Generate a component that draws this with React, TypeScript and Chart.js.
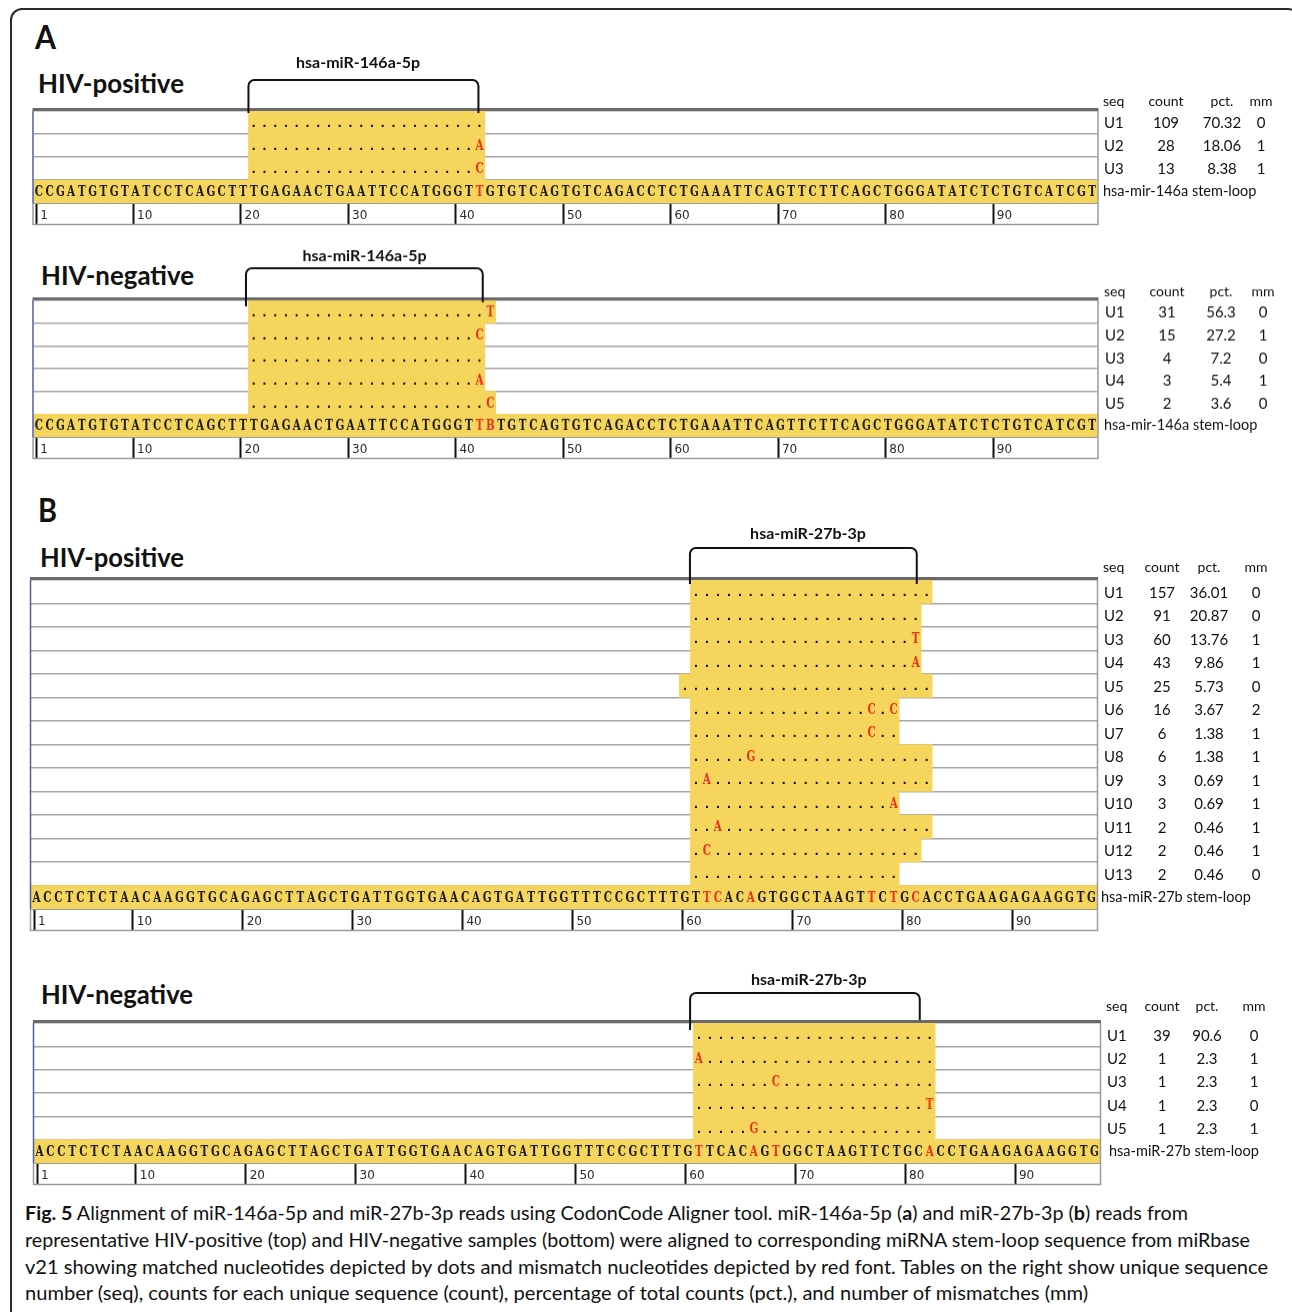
import React, { useEffect, useLayoutEffect, useRef } from "react";
import { Chart, registerables } from "chart.js";
Chart.register(...registerables);

// ---------------- DATA ----------------
const RULER_TICKS = [1, 10, 20, 30, 40, 50, 60, 70, 80, 90];

// hsa-mir-146a stem-loop (HIV-positive / HIV-negative renderings)
const MIR146A_REF_POS = "CCGATGTGTATCCTCAGCTTTGAGAACTGAATTCCATGGGTTGTGTCAGTGTCAGACCTCTGAAATTCAGTTCTTCAGCTGGGATATCTCTGTCATCGT";
const MIR146A_REF_POS_RED = [42];
const MIR146A_REF_NEG = "CCGATGTGTATCCTCAGCTTTGAGAACTGAATTCCATGGGTTBTGTCAGTGTCAGACCTCTGAAATTCAGTTCTTCAGCTGGGATATCTCTGTCATCGT";
const MIR146A_REF_NEG_RED = [42, 43];

// hsa-miR-27b stem-loop
const MIR27B_REF = "ACCTCTCTAACAAGGTGCAGAGCTTAGCTGATTGGTGAACAGTGATTGGTTTCCGCTTTGTTCACAGTGGCTAAGTTCTGCACCTGAAGAGAAGGTG";
const MIR27B_REF_POS_RED = [62, 63, 66, 77, 79, 81];
const MIR27B_REF_NEG_RED = [61, 66, 68, 82];

// A, HIV-positive
const A_POS_SEQ = ["U1", "U2", "U3"];
const A_POS_START = [21, 21, 21];
const A_POS_READS = ["......................", ".....................A", ".....................C"];
const A_POS_COUNT = [109, 28, 13];
const A_POS_PCT = [70.32, 18.06, 8.38];
const A_POS_MM = [0, 1, 1];

// A, HIV-negative
const A_NEG_SEQ = ["U1", "U2", "U3", "U4", "U5"];
const A_NEG_START = [21, 21, 21, 21, 21];
const A_NEG_READS = [
  "......................T",
  ".....................C",
  "......................",
  ".....................A",
  "......................C",
];
const A_NEG_COUNT = [31, 15, 4, 3, 2];
const A_NEG_PCT = [56.3, 27.2, 7.2, 5.4, 3.6];
const A_NEG_MM = [0, 1, 0, 1, 0];

// B, HIV-positive
const B_POS_SEQ = ["U1", "U2", "U3", "U4", "U5", "U6", "U7", "U8", "U9", "U10", "U11", "U12", "U13"];
const B_POS_START = [61, 61, 61, 61, 60, 61, 61, 61, 61, 61, 61, 61, 61];
const B_POS_READS = [
  "......................",
  ".....................",
  "....................T",
  "....................A",
  ".......................",
  "................C.C",
  "................C..",
  ".....G................",
  ".A....................",
  "..................A",
  "..A...................",
  ".C...................",
  "...................",
];
const B_POS_COUNT = [157, 91, 60, 43, 25, 16, 6, 6, 3, 3, 2, 2, 2];
const B_POS_PCT = [36.01, 20.87, 13.76, 9.86, 5.73, 3.67, 1.38, 1.38, 0.69, 0.69, 0.46, 0.46, 0.46];
const B_POS_MM = [0, 0, 1, 1, 0, 2, 1, 1, 1, 1, 1, 1, 0];

// B, HIV-negative
const B_NEG_SEQ = ["U1", "U2", "U3", "U4", "U5"];
const B_NEG_START = [61, 61, 61, 61, 61];
const B_NEG_READS = [
  "......................",
  "A.....................",
  ".......C..............",
  ".....................T",
  ".....G................",
];
const B_NEG_COUNT = [39, 1, 1, 1, 1];
const B_NEG_PCT = [90.6, 2.3, 2.3, 2.3, 2.3];
const B_NEG_MM = [0, 1, 1, 0, 1];

const TABLE_HEADER = ["seq", "count", "pct.", "mm"];

// ---------------- STYLE ----------------
const W = 1292;
const H_PAGE = 1312;
const PAD_TOP = 80;
const RULER_H = 22;
const PAD_BOTTOM = 6;
const YELLOW = "#F6D55C";
const RED = "#E8321E";
const SANS = 'Lato, "Open Sans", sans-serif';
const SERIF = '"DejaVu Serif", "Liberation Serif", serif';
const MONO = '"Liberation Mono", "DejaVu Sans Mono", monospace';

type Geo = {
  areaTop: number; rowH: number; x0: number; x1: number;
  brTop: number; legL: number; legR: number; labelX: number; labelDy: number;
  headDy: number; seqX: number; countX: number; pctX: number; mmX: number; stemX: number;
};
type Panel = {
  id: string; ref: string; refRed: number[];
  seq: string[]; start: number[]; reads: string[];
  count: number[]; pct: number[]; mm: number[];
  miRNA: string; stemLoop: string; bracket: number[]; geo: Geo;
};

const PANELS: Panel[] = [
  {
    id: "apos", ref: MIR146A_REF_POS, refRed: MIR146A_REF_POS_RED,
    seq: A_POS_SEQ, start: A_POS_START, reads: A_POS_READS,
    count: A_POS_COUNT, pct: A_POS_PCT, mm: A_POS_MM,
    miRNA: "hsa-miR-146a-5p", stemLoop: "hsa-mir-146a stem-loop", bracket: [20.5, 41.9],
    geo: { areaTop: 111, rowH: 23, x0: 33.5, x1: 1097.5, brTop: -31, legL: 2, legR: 2, labelX: 30.7, labelDy: -48,
      headDy: -10, seqX: 1104, countX: 1166, pctX: 1222, mmX: 1261, stemX: 1103 },
  },
  {
    id: "aneg", ref: MIR146A_REF_NEG, refRed: MIR146A_REF_NEG_RED,
    seq: A_NEG_SEQ, start: A_NEG_START, reads: A_NEG_READS,
    count: A_NEG_COUNT, pct: A_NEG_PCT, mm: A_NEG_MM,
    miRNA: "hsa-miR-146a-5p", stemLoop: "hsa-mir-146a stem-loop", bracket: [20.27, 42.3],
    geo: { areaTop: 300, rowH: 22.75, x0: 33.5, x1: 1097.5, brTop: -32, legL: 6, legR: 2, labelX: 31.3, labelDy: -44,
      headDy: -9, seqX: 1105, countX: 1167, pctX: 1221, mmX: 1263, stemX: 1104 },
  },
  {
    id: "bpos", ref: MIR27B_REF, refRed: MIR27B_REF_POS_RED,
    seq: B_POS_SEQ, start: B_POS_START, reads: B_POS_READS,
    count: B_POS_COUNT, pct: B_POS_PCT, mm: B_POS_MM,
    miRNA: "hsa-miR-27b-3p", stemLoop: "hsa-miR-27b stem-loop", bracket: [60.46, 81.1],
    geo: { areaTop: 580, rowH: 23.5, x0: 31, x1: 1097, brTop: -32, legL: 4, legR: 4, labelX: 71.2, labelDy: -46,
      headDy: -13, seqX: 1104, countX: 1162, pctX: 1209, mmX: 1256, stemX: 1101 },
  },
  {
    id: "bneg", ref: MIR27B_REF, refRed: MIR27B_REF_NEG_RED,
    seq: B_NEG_SEQ, start: B_NEG_START, reads: B_NEG_READS,
    count: B_NEG_COUNT, pct: B_NEG_PCT, mm: B_NEG_MM,
    miRNA: "hsa-miR-27b-3p", stemLoop: "hsa-miR-27b stem-loop", bracket: [60.2, 81.1],
    geo: { areaTop: 1023, rowH: 23.35, x0: 34, x1: 1100, brTop: -30, legL: 7, legR: -3, labelX: 71.0, labelDy: -43,
      headDy: -17, seqX: 1107, countX: 1162, pctX: 1207, mmX: 1254, stemX: 1109 },
  },
];

function panelHeight(p: Panel) {
  return PAD_TOP + (p.seq.length + 1) * p.geo.rowH + RULER_H + PAD_BOTTOM;
}

function makePlugin(p: Panel) {
  return {
    id: "align_" + p.id,
    afterDraw(chart: any) {
      const ctx: CanvasRenderingContext2D = chart.ctx;
      const xs = chart.scales.x;
      const ys = chart.scales.y;
      const ca = chart.chartArea;
      const g = p.geo;
      const n = p.seq.length;
      ctx.save();
      ctx.textAlign = "center";
      ctx.textBaseline = "middle";

      const glyph = (c: string, x: number, y: number, color: string) => {
        ctx.save();
        ctx.translate(x, y);
        ctx.scale(0.74, 1);
        ctx.fillStyle = color;
        ctx.fillText(c, 0, 0);
        ctx.restore();
      };
      const dot = (x: number, y: number) => {
        ctx.fillStyle = "#111";
        ctx.fillText(".", x, y);
      };
      // read rows
      p.reads.forEach((r, i) => {
        const y = ys.getPixelForValue(i);
        r.split("").forEach((c, k) => {
          const x = xs.getPixelForValue(p.start[i] + k);
          if (c === ".") {
            ctx.font = "bold 14px " + MONO;
            dot(x, y + 1);
          } else {
            ctx.font = "bold 14px " + SERIF;
            glyph(c, x, y + 1, RED);
          }
        });
      });
      // reference row
      const yr = ys.getPixelForValue(n);
      ctx.font = "bold 14px " + SERIF;
      p.ref.split("").forEach((c, k) => {
        const pos = k + 1;
        glyph(c, xs.getPixelForValue(pos), yr + 1, p.refRed.includes(pos) ? RED : "#1a1a1a");
      });

      const line = (a: number, b: number, c: number, d: number) => {
        ctx.beginPath(); ctx.moveTo(a, b); ctx.lineTo(c, d); ctx.stroke();
      };
      // frame of the alignment box
      ctx.strokeStyle = "#6a6a6a"; ctx.lineWidth = 3;
      line(ca.left - 1, ca.top - 1.5, ca.right + 1, ca.top - 1.5);
      ctx.lineWidth = 1.5;
      ctx.strokeStyle = "#4e5ea6";
      line(ca.left - 0.5, ca.top, ca.left - 0.5, ca.bottom);
      ctx.strokeStyle = "#9a9a9a";
      line(ca.left - 0.5, ca.bottom, ca.left - 0.5, xs.bottom);
      line(ca.right + 0.5, ca.top, ca.right + 0.5, xs.bottom);
      line(ca.left - 0.5, xs.bottom - 0.5, ca.right + 0.5, xs.bottom - 0.5);

      // bracket over the mature miRNA
      const bx0 = xs.getPixelForValue(p.bracket[0]);
      const bx1 = xs.getPixelForValue(p.bracket[1]);
      const bt = ca.top + g.brTop;
      const rr = 6;
      ctx.strokeStyle = "#111"; ctx.lineWidth = 2;
      ctx.beginPath();
      ctx.moveTo(bx0, ca.top + g.legL);
      ctx.lineTo(bx0, bt + rr);
      ctx.arcTo(bx0, bt, bx0 + rr, bt, rr);
      ctx.lineTo(bx1 - rr, bt);
      ctx.arcTo(bx1, bt, bx1, bt + rr, rr);
      ctx.lineTo(bx1, ca.top + g.legR);
      ctx.stroke();
      ctx.fillStyle = "#111";
      ctx.font = "bold 16px " + SANS;
      ctx.textAlign = "center";
      ctx.textBaseline = "middle";
      ctx.fillText(p.miRNA, xs.getPixelForValue(g.labelX), ca.top + g.labelDy);

      // table on the right
      ctx.font = "14px " + SANS;
      ctx.fillStyle = "#111";
      const hy = ca.top + g.headDy;
      ctx.textAlign = "left"; ctx.fillText(TABLE_HEADER[0], g.seqX - 1, hy);
      ctx.textAlign = "center";
      ctx.fillText(TABLE_HEADER[1], g.countX, hy);
      ctx.fillText(TABLE_HEADER[2], g.pctX, hy);
      ctx.fillText(TABLE_HEADER[3], g.mmX, hy);
      ctx.font = "15px " + SANS;
      p.seq.forEach((s, i) => {
        const y = ys.getPixelForValue(i) + 1;
        ctx.textAlign = "left"; ctx.fillText(s, g.seqX, y);
        ctx.textAlign = "center";
        ctx.fillText(String(p.count[i]), g.countX, y);
        ctx.fillText(String(p.pct[i]), g.pctX, y);
        ctx.fillText(String(p.mm[i]), g.mmX, y);
      });
      ctx.textAlign = "left";
      ctx.font = "14.5px " + SANS;
      ctx.fillText(p.stemLoop, g.stemX, yr);
      ctx.restore();
    },
  };
}

function AlignmentChart({ p }: { p: Panel }) {
  const ref = useRef<HTMLCanvasElement>(null);
  const H = panelHeight(p);
  useEffect(() => {
    const N = p.ref.length;
    const labels = [...p.seq, "ref"];
    const ranges: number[][] = p.reads.map((r, i) => [p.start[i] - 0.5, p.start[i] + r.length - 0.5]);
    ranges.push([0.5, N + 0.5]);
    const TICK_SHIFT = 0.22;
    const chart = new Chart(ref.current as HTMLCanvasElement, {
      type: "bar",
      data: {
        labels,
        datasets: [{
          data: ranges as any,
          backgroundColor: YELLOW,
          borderWidth: 0,
          barPercentage: 1,
          categoryPercentage: 1,
        }],
      },
      options: {
        indexAxis: "y",
        animation: false,
        responsive: false,
        maintainAspectRatio: false,
        events: [],
        layout: { padding: { top: PAD_TOP, left: p.geo.x0, right: W - p.geo.x1, bottom: PAD_BOTTOM } },
        plugins: { legend: { display: false }, tooltip: { enabled: false }, title: { display: false } },
        scales: {
          x: {
            type: "linear",
            position: "bottom",
            min: 0.5,
            max: N + 0.5,
            afterFit: (s: any) => { s.height = RULER_H; s.paddingLeft = 0; s.paddingRight = 0; },
            afterBuildTicks: (s: any) => { s.ticks = RULER_TICKS.map((v) => ({ value: v - TICK_SHIFT })); },
            ticks: {
              callback: (v: any) => " " + String(Math.round(Number(v) + TICK_SHIFT)),
              align: "start",
              padding: -16,
              autoSkip: false,
              maxRotation: 0,
              minRotation: 0,
              color: "#2a2a2a",
              font: { family: '"DejaVu Sans", sans-serif', size: 12 },
            },
            grid: { drawOnChartArea: false, drawTicks: true, tickLength: RULER_H, tickColor: "#111", tickWidth: 2 },
            border: { display: true, color: "#9a9a9a", width: 1 },
          },
          y: {
            type: "category",
            position: "left",
            afterFit: (s: any) => { s.width = 0; },
            ticks: { display: false },
            grid: { color: "#a6a6a6", lineWidth: 1.5, drawTicks: false, offset: true },
            border: { display: false },
            z: 1,
          },
        } as any,
      },
      plugins: [makePlugin(p)],
    });
    return () => chart.destroy();
  }, []);
  return (
    <canvas
      ref={ref}
      width={W}
      height={H}
      style={{ position: "absolute", left: 0, top: p.geo.areaTop - PAD_TOP, width: W, height: H }}
    />
  );
}

function Fit({ x, y, w, size, bold, children }: { x: number; y: number; w: number; size: number; bold?: boolean; children: any }) {
  const ref = useRef<HTMLDivElement>(null);
  useLayoutEffect(() => {
    const el = ref.current;
    if (!el) return;
    el.style.transform = "none";
    const actual = el.getBoundingClientRect().width;
    if (actual > 0) el.style.transform = `scaleX(${w / actual})`;
  }, []);
  return (
    <div
      ref={ref}
      style={{
        position: "absolute", left: x, top: y, whiteSpace: "nowrap", transformOrigin: "0 0",
        fontSize: size, fontWeight: bold ? 700 : 400, fontFamily: SANS, lineHeight: 1, color: "#111",
      }}
    >
      {children}
    </div>
  );
}

export default function App() {
  return (
    <div style={{ position: "absolute", left: 0, top: 0, width: W, height: H_PAGE, background: "#fff", overflow: "hidden" }}>
      <div style={{ position: "absolute", left: 10, top: 8, width: 1290, height: 1330, border: "2px solid #2a2a2a", borderRadius: 12, boxSizing: "border-box" }} />
      <Fit x={35} y={20} w={21} size={33} bold>A</Fit>
      <Fit x={38} y={70} w={146} size={26} bold>HIV-positive</Fit>
      <Fit x={41} y={262} w={153} size={26} bold>HIV-negative</Fit>
      <Fit x={38} y={493} w={19} size={33} bold>B</Fit>
      <Fit x={40} y={544} w={144} size={26} bold>HIV-positive</Fit>
      <Fit x={41} y={981} w={152} size={26} bold>HIV-negative</Fit>
      {PANELS.map((p) => <AlignmentChart key={p.id} p={p} />)}
      <Fit x={25} y={1203} w={1163} size={19}>
        <b>Fig. 5</b> Alignment of miR-146a-5p and miR-27b-3p reads using CodonCode Aligner tool. miR-146a-5p (<b>a</b>) and miR-27b-3p (<b>b</b>) reads from
      </Fit>
      <Fit x={25} y={1230} w={1225} size={19}>
        representative HIV-positive (top) and HIV-negative samples (bottom) were aligned to corresponding miRNA stem-loop sequence from miRbase
      </Fit>
      <Fit x={25} y={1257} w={1243} size={19}>
        v21 showing matched nucleotides depicted by dots and mismatch nucleotides depicted by red font. Tables on the right show unique sequence
      </Fit>
      <Fit x={25} y={1283} w={1063} size={19}>
        number (seq), counts for each unique sequence (count), percentage of total counts (pct.), and number of mismatches (mm)
      </Fit>
    </div>
  );
}
